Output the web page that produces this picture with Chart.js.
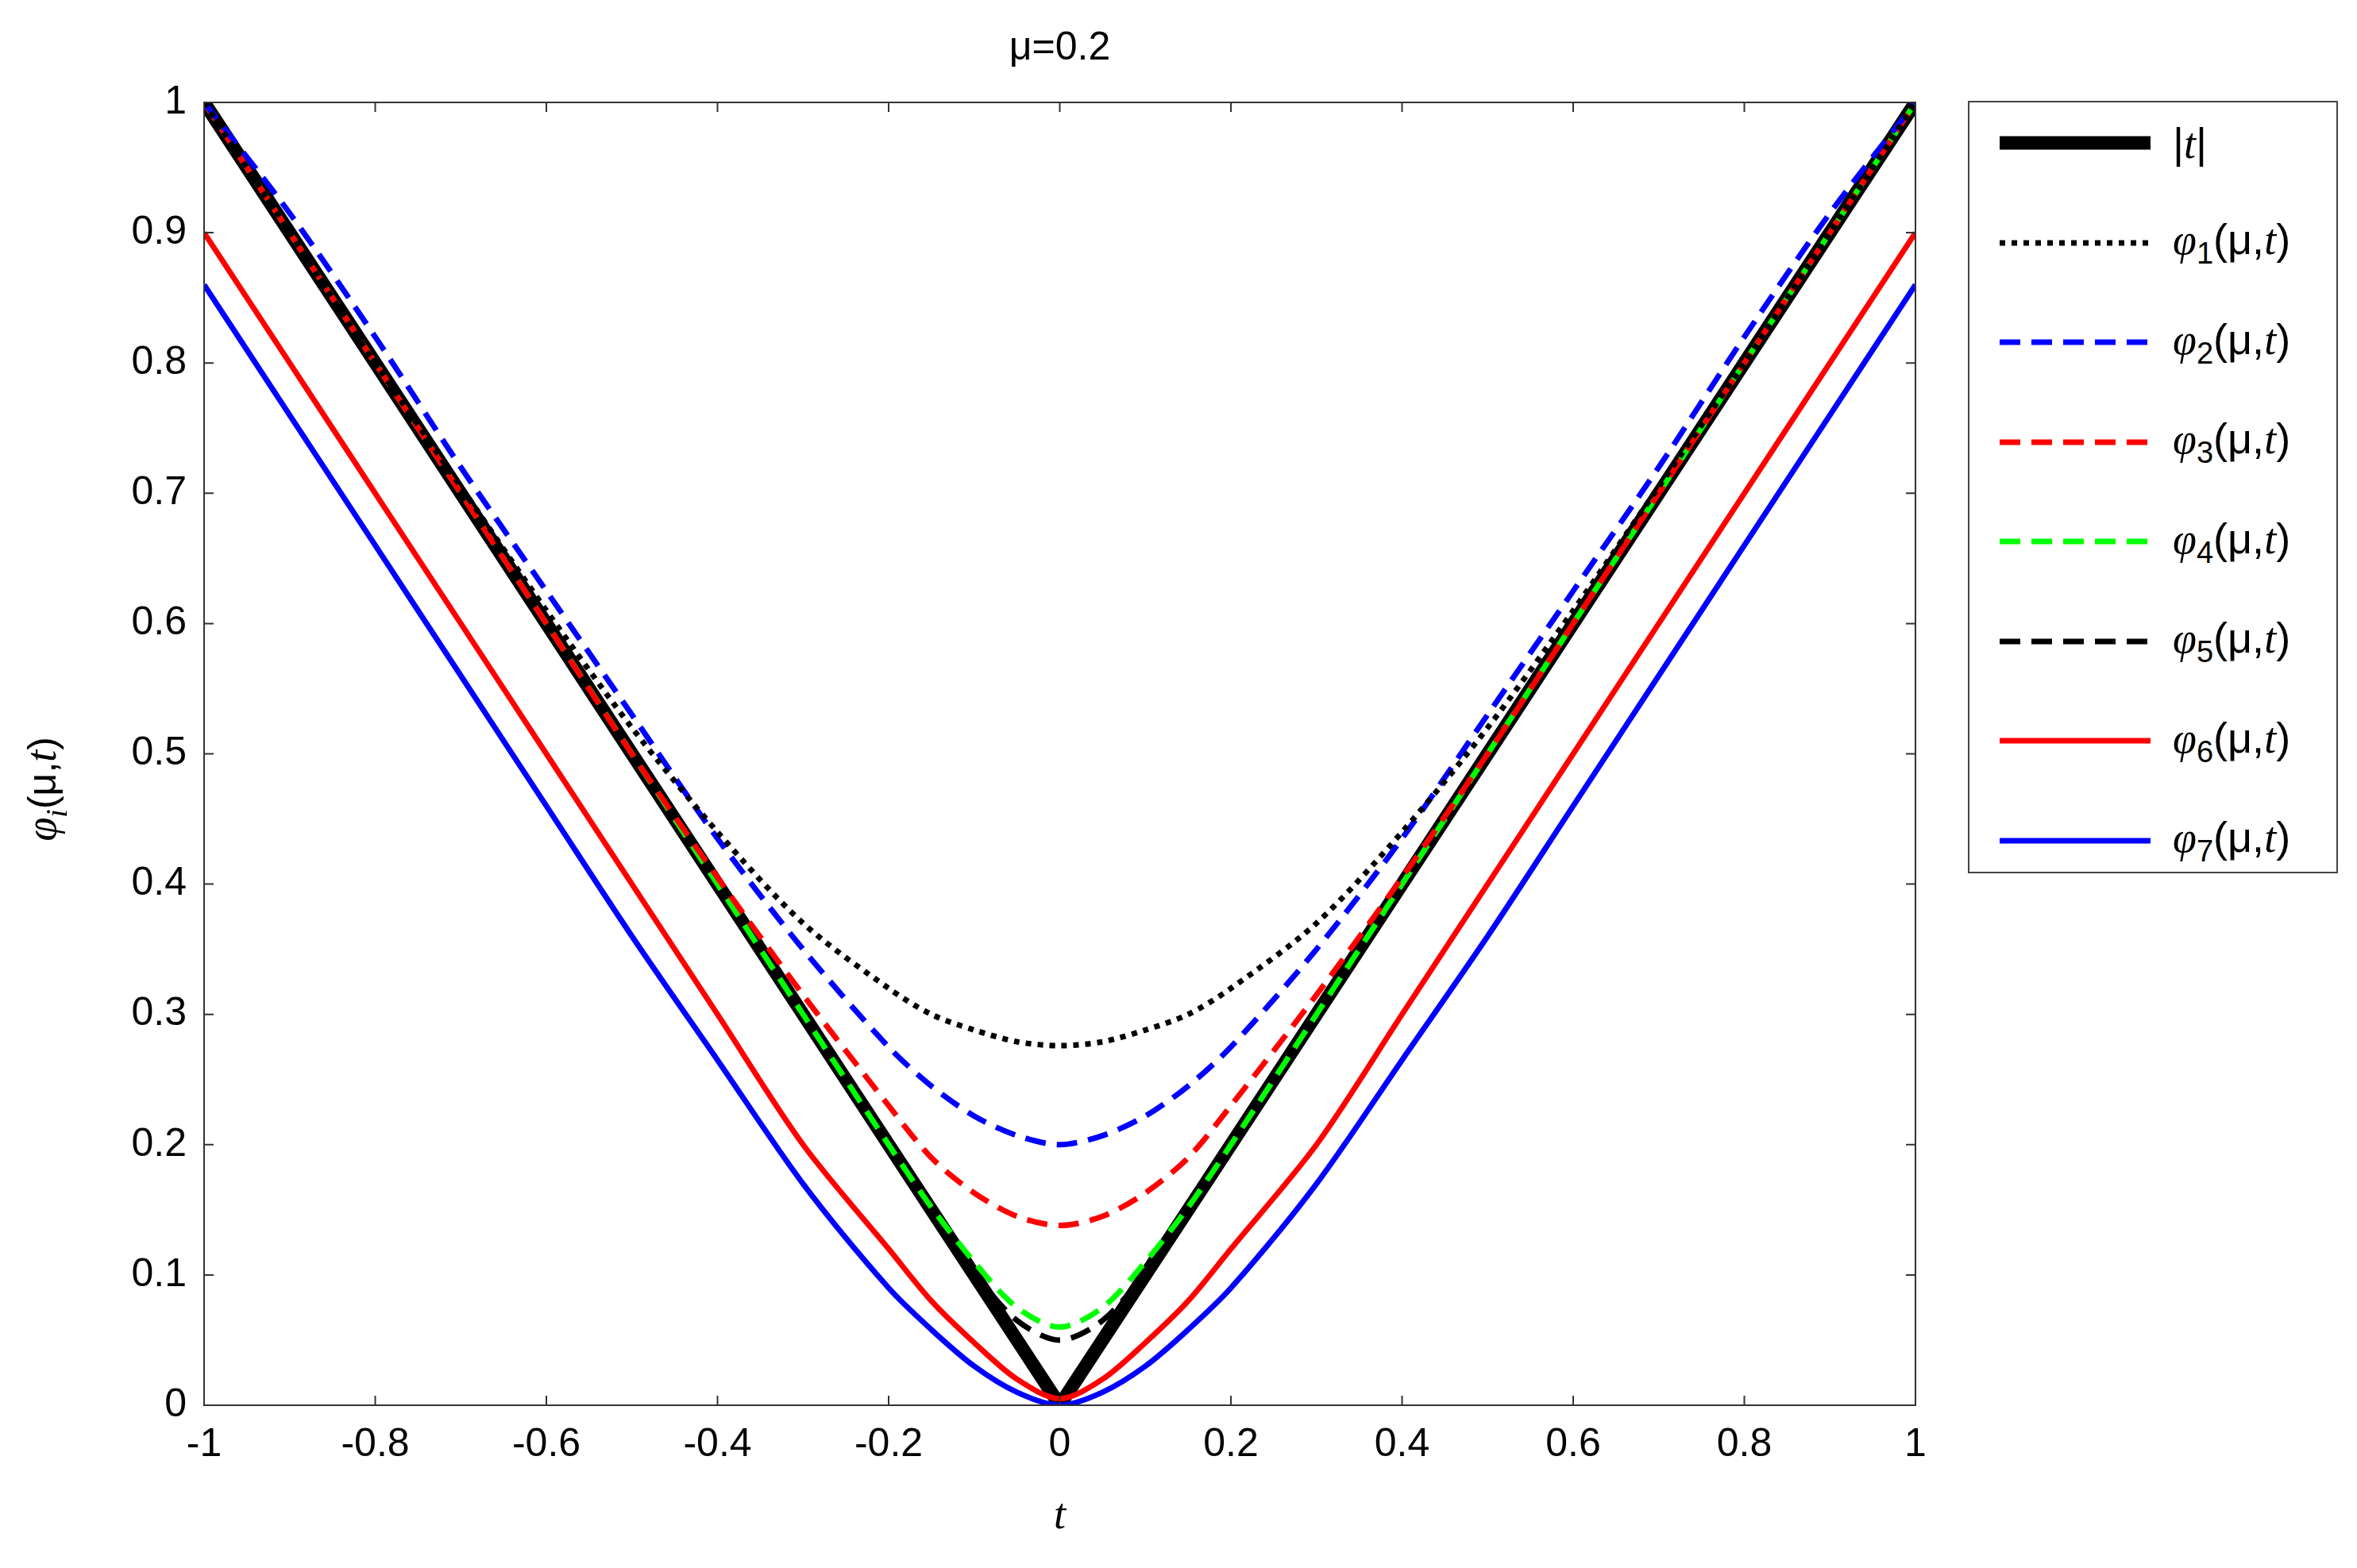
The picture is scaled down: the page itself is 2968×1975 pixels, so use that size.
<!DOCTYPE html>
<html><head><meta charset="utf-8">
<script src="https://cdn.jsdelivr.net/npm/chart.js@4.4.1/dist/chart.umd.min.js"></script>
<style>
html,body{margin:0;padding:0;background:#fff;}
#wrap{position:relative;width:2968px;height:1975px;}
#legend{position:absolute;left:2478px;top:127px;width:466px;height:973px;border:2px solid #444;box-sizing:border-box;background:#fff;font-family:"Liberation Sans",Arial,sans-serif;font-size:54px;}
.row{position:absolute;left:0;height:70px;display:flex;align-items:center;}
.row svg{margin-left:38px;margin-right:28px;}
i{font-family:"Liberation Serif",serif;}
</style></head><body>
<div id="wrap"><canvas id="c" width="2968" height="1975"></canvas><div id="legend"></div></div>
<script>
const T = [-1,-0.9,-0.8,-0.7,-0.6,-0.5,-0.4,-0.3,-0.2,-0.15,-0.1,-0.05,0,0.05,0.1,0.15,0.2,0.3,0.4,0.5,0.6,0.7,0.8,0.9,1];
const absT = [1,0.9,0.8,0.7,0.6,0.5,0.4,0.3,0.2,0.15,0.1,0.05,0,0.05,0.1,0.15,0.2,0.3,0.4,0.5,0.6,0.7,0.8,0.9,1];
const phi1 = [1.0,0.9,0.8,0.705,0.61,0.52,0.44,0.37,0.32,0.30,0.288,0.279,0.276,0.279,0.288,0.30,0.32,0.37,0.44,0.52,0.61,0.705,0.8,0.9,1.0];
const phi2 = [1.0,0.915,0.82,0.72,0.625,0.53,0.435,0.35,0.275,0.245,0.222,0.207,0.2,0.207,0.222,0.245,0.275,0.35,0.435,0.53,0.625,0.72,0.82,0.915,1.0];
const phi3 = [1.0,0.9,0.8,0.7,0.6,0.5,0.405,0.315,0.23,0.19,0.163,0.145,0.138,0.145,0.163,0.19,0.23,0.315,0.405,0.5,0.6,0.7,0.8,0.9,1.0];
const phi4 = [1.0,0.9,0.8,0.7,0.6,0.5,0.4,0.3,0.2,0.152,0.11,0.075,0.06,0.075,0.11,0.152,0.2,0.3,0.4,0.5,0.6,0.7,0.8,0.9,1.0];
const phi5 = [1.0,0.9,0.8,0.7,0.6,0.5,0.4,0.3,0.2,0.15,0.102,0.065,0.05,0.065,0.102,0.15,0.2,0.3,0.4,0.5,0.6,0.7,0.8,0.9,1.0];
const phi6 = [0.9,0.8,0.7,0.6,0.5,0.4,0.3,0.2,0.12,0.08,0.048,0.02,0.005,0.02,0.048,0.08,0.12,0.2,0.3,0.4,0.5,0.6,0.7,0.8,0.9];
const phi7 = [0.86,0.76,0.66,0.56,0.46,0.36,0.265,0.17,0.09,0.058,0.03,0.01,0,0.01,0.03,0.058,0.09,0.17,0.265,0.36,0.46,0.56,0.66,0.76,0.86];
const xTicks = [-1,-0.8,-0.6,-0.4,-0.2,0,0.2,0.4,0.6,0.8,1];
const yTicks = [0,0.1,0.2,0.3,0.4,0.5,0.6,0.7,0.8,0.9,1];

const series = [
 {lab:'|t|', d:absT, c:'#000', w:17, dash:[], order:10, ten:0},
 {lab:'1', d:phi1, c:'#000', w:7, dash:[7,8], order:1, ten:0.3},
 {lab:'2', d:phi2, c:'#0000ff', w:7, dash:[26,14], order:2, ten:0.3},
 {lab:'3', d:phi3, c:'#ff0000', w:7, dash:[26,14], order:3, ten:0.3},
 {lab:'4', d:phi4, c:'#00ff00', w:7, dash:[26,14], order:4, ten:0.3},
 {lab:'5', d:phi5, c:'#000', w:7, dash:[26,14], order:5, ten:0.3},
 {lab:'6', d:phi6, c:'#ff0000', w:7, dash:[], order:6, ten:0.3},
 {lab:'7', d:phi7, c:'#0000ff', w:7, dash:[], order:7, ten:0.3},
];
const F = '"Liberation Sans", Arial, sans-serif';
const deco = {
 id:'deco',
 afterDraw(ch){
  const ctx=ch.ctx, a=ch.chartArea;
  ctx.save();
  ctx.strokeStyle='#333'; ctx.lineWidth=2;
  ctx.strokeRect(a.left,a.top,a.right-a.left,a.bottom-a.top);
  ctx.beginPath();
  xTicks.forEach(v=>{const x=ch.scales.x.getPixelForValue(v);ctx.moveTo(x,a.bottom);ctx.lineTo(x,a.bottom-12);ctx.moveTo(x,a.top);ctx.lineTo(x,a.top+12);});
  yTicks.forEach(v=>{const y=ch.scales.y.getPixelForValue(v);ctx.moveTo(a.left,y);ctx.lineTo(a.left+12,y);ctx.moveTo(a.right,y);ctx.lineTo(a.right-12,y);});
  ctx.stroke();
  ctx.fillStyle='#000';
  ctx.textAlign='center'; ctx.textBaseline='alphabetic';
  ctx.font='50px '+F; ctx.fillText('μ=0.2',(a.left+a.right)/2,75);
  ctx.font='italic 54px "Liberation Serif", serif'; ctx.fillText('t',(a.left+a.right)/2,1925);
  ctx.translate(70,(a.top+a.bottom)/2); ctx.rotate(-Math.PI/2);
  ctx.textAlign='left';
  let x=-110;
  ctx.font='italic 54px "Liberation Serif", serif'; ctx.fillText('φ',x,0); x+=ctx.measureText('φ').width;
  ctx.font='italic 38px "Liberation Serif", serif'; ctx.fillText('i',x,14); x+=ctx.measureText('i').width;
  ctx.font='50px '+F; ctx.fillText('(μ,',x,0); x+=ctx.measureText('(μ,').width;
  ctx.font='italic 54px "Liberation Serif", serif'; ctx.fillText('t',x,0); x+=ctx.measureText('t').width;
  ctx.font='50px '+F; ctx.fillText(')',x,0);
  ctx.restore();
 }
};
new Chart(document.getElementById('c'),{
 type:'line',
 data:{datasets:series.map(s=>({label:s.lab,data:T.map((t,i)=>({x:t,y:s.d[i]})),borderColor:s.c,borderWidth:s.w,borderDash:s.dash,pointRadius:0,tension:s.ten,fill:false,order:s.order}))},
 options:{responsive:false,animation:false,
  layout:{padding:{left:0,top:129,right:556,bottom:0}},
  plugins:{legend:{display:false},tooltip:{enabled:false}},
  scales:{
   x:{type:'linear',min:-1,max:1,afterBuildTicks:s=>{s.ticks=xTicks.map(v=>({value:v}));},
      afterFit:s=>{s.height=205;},grid:{display:false},border:{display:false},
      ticks:{font:{size:50,family:F},color:'#000',padding:12,maxRotation:0,callback:v=>String(v)}},
   y:{type:'linear',min:0,max:1,afterBuildTicks:s=>{s.ticks=yTicks.map(v=>({value:v}));},
      afterFit:s=>{s.width=257;},grid:{display:false},border:{display:false},
      ticks:{font:{size:50,family:F},color:'#000',padding:14,callback:v=>String(v)}}
  }},
 plugins:[deco]
});
const L=document.getElementById('legend');
series.forEach((s,i)=>{
 const r=document.createElement('div'); r.className='row'; r.style.top=(16+i*125.5)+'px';
 const dash=s.dash.length?`stroke-dasharray="${s.dash.join(',')}"`:'';
 r.innerHTML=`<svg width="190" height="24"><line x1="0" y1="12" x2="190" y2="12" stroke="${s.c}" stroke-width="${s.w}" ${dash}/></svg>`+
  (i===0?'<span>|<i>t</i>|</span>':`<span><i>φ</i><sub style="font-size:38px">${s.lab}</sub>(μ,<i>t</i>)</span>`);
 L.appendChild(r);
});
</script></body></html>
